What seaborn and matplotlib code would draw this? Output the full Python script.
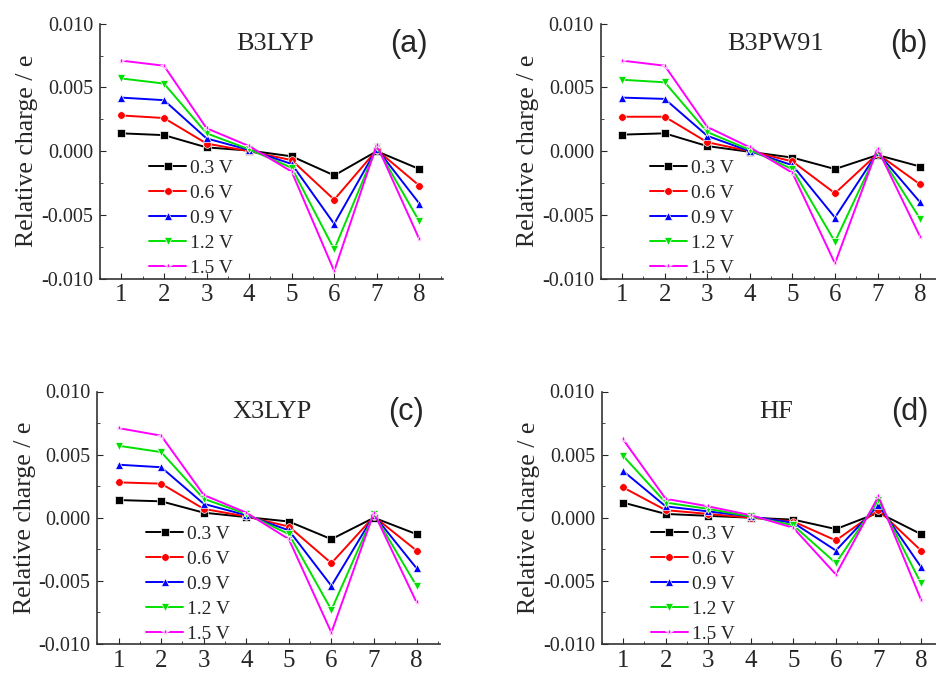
import matplotlib
matplotlib.use("Agg")
import matplotlib.pyplot as plt
from matplotlib.ticker import MultipleLocator, FormatStrFormatter
import numpy as np
import pandas as pd
import seaborn as sns

sns.set_style("ticks")
plt.rcParams["font.family"] = ["Liberation Serif", "DejaVu Serif"]

# Atom index on the x axis
atoms = [1, 2, 3, 4, 5, 6, 7, 8]
voltages = ["0.3 V", "0.6 V", "0.9 V", "1.2 V", "1.5 V"]

# Relative charge (e), one list per voltage
b3lyp = {
    "0.3 V": [0.0014, 0.00126, 0.0003, 0.00005, -0.0004, -0.0019, 0.0000, -0.0014],
    "0.6 V": [0.0028, 0.0026, 0.0006, 0.0000, -0.0007, -0.0038, 0.0001, -0.0027],
    "0.9 V": [0.0042, 0.0040, 0.0010, 0.0001, -0.0010, -0.0057, 0.0002, -0.0041],
    "1.2 V": [0.0057, 0.0053, 0.0014, 0.00015, -0.0013, -0.0077, 0.0003, -0.0055],
    "1.5 V": [0.0071, 0.0067, 0.0018, 0.0004, -0.0016, -0.0094, 0.0005, -0.0069],
}
b3pw91 = {
    "0.3 V": [0.0013, 0.0014, 0.0004, -0.00005, -0.0005, -0.0014, -0.0003, -0.0012],
    "0.6 V": [0.0027, 0.0027, 0.0007, 0.0000, -0.0008, -0.0033, -0.0002, -0.0026],
    "0.9 V": [0.0042, 0.0041, 0.0012, 0.0000, -0.0011, -0.0052, -0.0001, -0.0040],
    "1.2 V": [0.0056, 0.0054, 0.0015, 0.0001, -0.0014, -0.0071, 0.0000, -0.0053],
    "1.5 V": [0.0071, 0.0067, 0.0019, 0.0003, -0.0017, -0.0088, 0.0002, -0.0067],
}
x3lyp = {
    "0.3 V": [0.0014, 0.0013, 0.0004, 0.00005, -0.0003, -0.0017, 0.0000, -0.0013],
    "0.6 V": [0.0028, 0.0027, 0.0007, 0.0001, -0.0007, -0.0036, 0.0001, -0.0026],
    "0.9 V": [0.0042, 0.0040, 0.0011, 0.0002, -0.0010, -0.0054, 0.0002, -0.0040],
    "1.2 V": [0.0057, 0.0052, 0.0015, 0.0003, -0.0013, -0.0073, 0.0003, -0.0054],
    "1.5 V": [0.0071, 0.0065, 0.0018, 0.0004, -0.0017, -0.0091, 0.0004, -0.0067],
}
hf = {
    "0.3 V": [0.0012, 0.0003, 0.00015, 0.0000, -0.00015, -0.0009, 0.0004, -0.0013],
    "0.6 V": [0.0024, 0.0006, 0.0003, 0.0000, -0.0003, -0.0018, 0.0006, -0.0026],
    "0.9 V": [0.0037, 0.0009, 0.0005, 0.0001, -0.0004, -0.0026, 0.0010, -0.0039],
    "1.2 V": [0.0049, 0.0012, 0.0007, 0.0001, -0.0006, -0.0036, 0.0014, -0.0052],
    "1.5 V": [0.0062, 0.0015, 0.0009, 0.0002, -0.0008, -0.0045, 0.0017, -0.0065],
}

panels = [
    ("B3LYP", "(a)", b3lyp, [0.107, 0.587, 0.366, 0.378]),
    ("B3PW91", "(b)", b3pw91, [0.642, 0.587, 0.366, 0.378]),
    ("X3LYP", "(c)", x3lyp, [0.104, 0.046, 0.366, 0.374]),
    ("HF", "(d)", hf, [0.643, 0.046, 0.366, 0.374]),
]

palette = dict(zip(voltages, ["black", "#ff0000", "#0000ff", "#00e000", "#ff00ff"]))
markers = dict(zip(voltages, ["s", "o", "^", "v", "*"]))

fig = plt.figure(figsize=(9.36, 6.75), dpi=100)

for method, tag, data, rect in panels:
    ax = fig.add_axes(rect)
    df = pd.DataFrame([
        {"atom": a, "charge": q, "V": v}
        for v in voltages for a, q in zip(atoms, data[v])
    ])
    sns.lineplot(data=df, x="atom", y="charge", hue="V", style="V",
                 palette=palette, markers=markers, dashes=False,
                 markersize=5.5, linewidth=1.4, markeredgewidth=0.5,
                 ax=ax)

    ax.set_xlim(0.5, 8.55)
    ax.set_ylim(-0.010, 0.010)
    ax.xaxis.set_major_locator(MultipleLocator(1))
    ax.xaxis.set_minor_locator(MultipleLocator(0.5))
    ax.yaxis.set_major_locator(MultipleLocator(0.005))
    ax.yaxis.set_minor_locator(MultipleLocator(0.0025))
    ax.yaxis.set_major_formatter(FormatStrFormatter("%.3f"))
    ax.tick_params(axis="x", which="major", direction="in", length=4, pad=4, labelsize=18)
    ax.tick_params(axis="y", which="major", direction="in", length=4, pad=5, labelsize=14.5)
    ax.tick_params(which="minor", direction="in", length=2)
    sns.despine(ax=ax)
    for s in ["left", "bottom"]:
        ax.spines[s].set_color("#333333")
        ax.spines[s].set_linewidth(1.2)

    ax.set_xlabel("")
    ax.set_ylabel("Relative charge / e", fontsize=18.5)
    ax.yaxis.set_label_coords(-0.18, 0.5)

    ax.text(0.51, 0.92, method, transform=ax.transAxes, ha="center", va="center", fontsize=19)
    ax.text(0.90, 0.92, tag, transform=ax.transAxes, ha="center", va="center",
            fontsize=22, family="Liberation Sans")

    ax.legend(loc="upper left", bbox_to_anchor=(0.12, 0.5), frameon=False,
              fontsize=14, handlelength=1.9, handletextpad=0.2,
              labelspacing=0.38, borderaxespad=0)

fig.savefig("out.png", dpi=100)
